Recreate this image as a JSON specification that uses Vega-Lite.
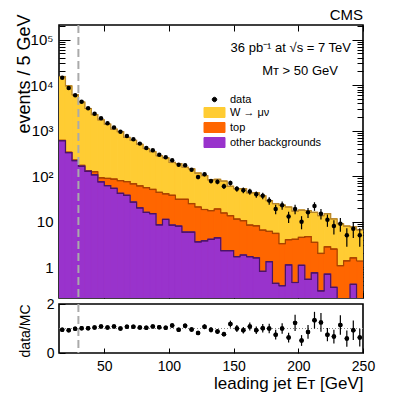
{
  "$schema": "https://vega.github.io/schema/vega-lite/v6.json",
  "padding": {"left": 14, "top": 7, "right": 5, "bottom": 5},
  "bounds": "flush",
  "spacing": 6,
  "config": {
    "view": {"stroke": "black", "strokeWidth": 1.6},
    "font": "Liberation Sans",
    "axis": {"domain": false, "grid": false, "tickColor": "black", "tickWidth": 1, "labelColor": "black", "titleColor": "black", "titleFontWeight": "normal", "labelFont": "Liberation Sans", "titleFont": "Liberation Sans", "labelOverlap": false, "labelBound": false},
    "legend": {"orient": "none", "legendX": 150, "legendY": 69, "title": null, "padding": 0, "labelFont": "Liberation Sans", "labelFontSize": 11, "labelColor": "black", "labelOffset": 10, "rowPadding": 0, "symbolSize": 100}
  },
  "datasets": {
    "h": [
      {"lo": 15, "hi": 20, "c": 17.5, "other": 600, "otop": 610, "mc": 15500, "data": 14500, "dlo": 14380, "dhi": 14620, "r": 0.945, "rlo": 0.935, "rhi": 0.955},
      {"lo": 20, "hi": 25, "c": 22.5, "other": 330, "otop": 335, "mc": 9600, "data": 8700, "dlo": 8607, "dhi": 8793, "r": 0.93, "rlo": 0.92, "rhi": 0.94},
      {"lo": 25, "hi": 30, "c": 27.5, "other": 220, "otop": 225, "mc": 6200, "data": 6000, "dlo": 5923, "dhi": 6077, "r": 0.99, "rlo": 0.977, "rhi": 1.003},
      {"lo": 30, "hi": 35, "c": 32.5, "other": 165, "otop": 172, "mc": 4250, "data": 4300, "dlo": 4234, "dhi": 4366, "r": 1.01, "rlo": 0.994, "rhi": 1.026},
      {"lo": 35, "hi": 40, "c": 37.5, "other": 128, "otop": 132, "mc": 3070, "data": 3100, "dlo": 3044, "dhi": 3156, "r": 1.01, "rlo": 0.992, "rhi": 1.028},
      {"lo": 40, "hi": 45, "c": 42.5, "other": 107, "otop": 125, "mc": 2260, "data": 2350, "dlo": 2302, "dhi": 2398, "r": 1.04, "rlo": 1.019, "rhi": 1.061},
      {"lo": 45, "hi": 50, "c": 47.5, "other": 75, "otop": 92, "mc": 1730, "data": 1870, "dlo": 1827, "dhi": 1913, "r": 1.08, "rlo": 1.055, "rhi": 1.105},
      {"lo": 50, "hi": 55, "c": 52.5, "other": 62, "otop": 89, "mc": 1390, "data": 1450, "dlo": 1412, "dhi": 1488, "r": 1.04, "rlo": 1.013, "rhi": 1.067},
      {"lo": 55, "hi": 60, "c": 57.5, "other": 54, "otop": 86, "mc": 1080, "data": 1170, "dlo": 1136, "dhi": 1204, "r": 1.08, "rlo": 1.048, "rhi": 1.112},
      {"lo": 60, "hi": 65, "c": 62.5, "other": 42, "otop": 80, "mc": 950, "data": 950, "dlo": 919, "dhi": 981, "r": 1.0, "rlo": 0.968, "rhi": 1.032},
      {"lo": 65, "hi": 70, "c": 67.5, "other": 38, "otop": 76, "mc": 710, "data": 760, "dlo": 732, "dhi": 788, "r": 1.07, "rlo": 1.031, "rhi": 1.109},
      {"lo": 70, "hi": 75, "c": 72.5, "other": 27, "otop": 68, "mc": 610, "data": 650, "dlo": 625, "dhi": 675, "r": 1.07, "rlo": 1.028, "rhi": 1.112},
      {"lo": 75, "hi": 80, "c": 77.5, "other": 20, "otop": 61, "mc": 500, "data": 519, "dlo": 496, "dhi": 542, "r": 1.04, "rlo": 0.994, "rhi": 1.086},
      {"lo": 80, "hi": 85, "c": 82.5, "other": 16, "otop": 56, "mc": 405, "data": 417, "dlo": 397, "dhi": 437, "r": 1.03, "rlo": 0.98, "rhi": 1.08},
      {"lo": 85, "hi": 90, "c": 87.5, "other": 15, "otop": 51, "mc": 345, "data": 372, "dlo": 353, "dhi": 391, "r": 1.08, "rlo": 1.024, "rhi": 1.136},
      {"lo": 90, "hi": 95, "c": 92.5, "other": 8.5, "otop": 44, "mc": 281, "data": 295, "dlo": 278, "dhi": 312, "r": 1.05, "rlo": 0.989, "rhi": 1.111},
      {"lo": 95, "hi": 100, "c": 97.5, "other": 11.2, "otop": 41, "mc": 253, "data": 261, "dlo": 245, "dhi": 277, "r": 1.03, "rlo": 0.966, "rhi": 1.094},
      {"lo": 100, "hi": 105, "c": 102.5, "other": 8.4, "otop": 38, "mc": 200, "data": 224, "dlo": 209, "dhi": 239, "r": 1.12, "rlo": 1.045, "rhi": 1.195},
      {"lo": 105, "hi": 110, "c": 107.5, "other": 8, "otop": 31, "mc": 189, "data": 179, "dlo": 166, "dhi": 192, "r": 0.945, "rlo": 0.874, "rhi": 1.016},
      {"lo": 110, "hi": 115, "c": 112.5, "other": 5.9, "otop": 31, "mc": 157, "data": 174, "dlo": 161, "dhi": 187, "r": 1.11, "rlo": 1.026, "rhi": 1.194},
      {"lo": 115, "hi": 120, "c": 117.5, "other": 5.9, "otop": 25, "mc": 145, "data": 139, "dlo": 127, "dhi": 151, "r": 0.96, "rlo": 0.879, "rhi": 1.041},
      {"lo": 120, "hi": 125, "c": 122.5, "other": 3.6, "otop": 21, "mc": 117, "data": 96, "dlo": 86, "dhi": 106, "r": 0.82, "rlo": 0.736, "rhi": 0.904},
      {"lo": 125, "hi": 130, "c": 127.5, "other": 3.8, "otop": 18.5, "mc": 103, "data": 110, "dlo": 99.5, "dhi": 120.5, "r": 1.07, "rlo": 0.97, "rhi": 1.17},
      {"lo": 130, "hi": 135, "c": 132.5, "other": 4.1, "otop": 17.5, "mc": 83, "data": 78, "dlo": 69.2, "dhi": 86.8, "r": 0.945, "rlo": 0.835, "rhi": 1.055},
      {"lo": 135, "hi": 140, "c": 137.5, "other": 4.4, "otop": 19, "mc": 85, "data": 75, "dlo": 66.3, "dhi": 83.7, "r": 0.88, "rlo": 0.78, "rhi": 0.98},
      {"lo": 140, "hi": 145, "c": 142.5, "other": 2.3, "otop": 15.5, "mc": 78, "data": 60, "dlo": 52.3, "dhi": 67.7, "r": 0.77, "rlo": 0.67, "rhi": 0.87},
      {"lo": 145, "hi": 150, "c": 147.5, "other": 2.3, "otop": 13.5, "mc": 60, "data": 71, "dlo": 62.6, "dhi": 79.4, "r": 1.18, "rlo": 1.04, "rhi": 1.32},
      {"lo": 150, "hi": 155, "c": 152.5, "other": 1.7, "otop": 11.4, "mc": 53, "data": 53, "dlo": 45.7, "dhi": 60.3, "r": 1.0, "rlo": 0.86, "rhi": 1.14},
      {"lo": 155, "hi": 160, "c": 157.5, "other": 1.85, "otop": 10.5, "mc": 53, "data": 49, "dlo": 42, "dhi": 56, "r": 0.93, "rlo": 0.8, "rhi": 1.06},
      {"lo": 160, "hi": 165, "c": 162.5, "other": 1.7, "otop": 8.4, "mc": 43, "data": 46, "dlo": 39.2, "dhi": 52.8, "r": 1.08, "rlo": 0.92, "rhi": 1.24},
      {"lo": 165, "hi": 170, "c": 167.5, "other": 1.6, "otop": 8.1, "mc": 43, "data": 40, "dlo": 33.7, "dhi": 46.3, "r": 0.93, "rlo": 0.78, "rhi": 1.08},
      {"lo": 170, "hi": 175, "c": 172.5, "other": 0.81, "otop": 6.5, "mc": 37, "data": 37, "dlo": 30.9, "dhi": 43.1, "r": 1.01, "rlo": 0.84, "rhi": 1.18},
      {"lo": 175, "hi": 180, "c": 177.5, "other": 1.32, "otop": 6.1, "mc": 29, "data": 29, "dlo": 23.6, "dhi": 34.4, "r": 1.0, "rlo": 0.81, "rhi": 1.19},
      {"lo": 180, "hi": 185, "c": 182.5, "other": 0.44, "otop": 5.5, "mc": 25, "data": 19, "dlo": 14.6, "dhi": 23.4, "r": 0.75, "rlo": 0.55, "rhi": 0.95},
      {"lo": 185, "hi": 190, "c": 187.5, "other": 0.39, "otop": 3.3, "mc": 23, "data": 23, "dlo": 18.2, "dhi": 27.8, "r": 1.0, "rlo": 0.79, "rhi": 1.21},
      {"lo": 190, "hi": 195, "c": 192.5, "other": 1.12, "otop": 4.0, "mc": 21, "data": 13, "dlo": 9.4, "dhi": 16.6, "r": 0.63, "rlo": 0.43, "rhi": 0.83},
      {"lo": 195, "hi": 200, "c": 197.5, "other": 0.46, "otop": 4.1, "mc": 17, "data": 19, "dlo": 14.6, "dhi": 23.4, "r": 1.23, "rlo": 0.9, "rhi": 1.56},
      {"lo": 200, "hi": 205, "c": 202.5, "other": 1.1, "otop": 4.5, "mc": 18, "data": 10, "dlo": 6.8, "dhi": 13.2, "r": 0.51, "rlo": 0.29, "rhi": 0.73},
      {"lo": 205, "hi": 210, "c": 207.5, "other": 0.54, "otop": 4.7, "mc": 17.5, "data": 16, "dlo": 12, "dhi": 20, "r": 0.86, "rlo": 0.58, "rhi": 1.14},
      {"lo": 210, "hi": 215, "c": 212.5, "other": 0.75, "otop": 3.5, "mc": 16, "data": 22, "dlo": 17.3, "dhi": 26.7, "r": 1.34, "rlo": 1.0, "rhi": 1.68},
      {"lo": 215, "hi": 220, "c": 217.5, "other": 0.3, "otop": 2.0, "mc": 13.5, "data": 15, "dlo": 11.1, "dhi": 18.9, "r": 1.25, "rlo": 0.87, "rhi": 1.63},
      {"lo": 220, "hi": 225, "c": 222.5, "other": 0.7, "otop": 2.8, "mc": 15, "data": 11, "dlo": 7.7, "dhi": 14.3, "r": 0.75, "rlo": 0.48, "rhi": 1.02},
      {"lo": 225, "hi": 230, "c": 227.5, "other": 0.36, "otop": 2.5, "mc": 11.5, "data": 8, "dlo": 5.2, "dhi": 10.8, "r": 0.67, "rlo": 0.39, "rhi": 0.95},
      {"lo": 230, "hi": 235, "c": 232.5, "other": 0.05, "otop": 1.08, "mc": 9, "data": 9, "dlo": 6, "dhi": 12, "r": 1.14, "rlo": 0.74, "rhi": 1.54},
      {"lo": 235, "hi": 240, "c": 237.5, "other": 0.05, "otop": 1.38, "mc": 8, "data": 5, "dlo": 2.8, "dhi": 7.2, "r": 0.59, "rlo": 0.26, "rhi": 0.92},
      {"lo": 240, "hi": 245, "c": 242.5, "other": 0.42, "otop": 1.6, "mc": 7.7, "data": 7, "dlo": 4.4, "dhi": 9.6, "r": 0.93, "rlo": 0.53, "rhi": 1.33},
      {"lo": 245, "hi": 250, "c": 247.5, "other": 0.05, "otop": 1.36, "mc": 6.5, "data": 5, "dlo": 2.8, "dhi": 7.2, "r": 0.63, "rlo": 0.27, "rhi": 0.99}
    ]
  },
  "vconcat": [
    {
      "width": 304,
      "height": 273,
      "title": {"text": "CMS", "anchor": "end", "frame": "group", "fontSize": 15, "font": "Liberation Sans", "fontWeight": "normal", "offset": -9, "color": "black"},
      "data": {"name": "h"},
      "resolve": {"axis": {"x": "independent", "y": "independent"}},
      "layer": [
        {
          "mark": {"type": "bar", "clip": true, "strokeWidth": 1},
          "encoding": {
            "x": {"field": "lo", "type": "quantitative", "scale": {"domain": [15, 250], "nice": false, "zero": false},
                  "axis": {"orient": "bottom", "values": [50, 100, 150, 200, 250], "labels": false, "tickSize": -6, "title": null}},
            "x2": {"field": "hi"},
            "y": {"field": "mc", "type": "quantitative", "scale": {"type": "log", "domain": [0.21, 210000], "nice": false},
                  "axis": {"orient": "left", "title": "events / 5 GeV", "titleFontSize": 18, "titleAnchor": "end", "titleAlign": "right", "titleAngle": -90, "titleBaseline": "alphabetic", "titleX": -30, "titleY": -11,
                           "values": [0.3,0.4,0.5,0.6,0.7,0.8,0.9,1,2,3,4,5,6,7,8,9,10,20,30,40,50,60,70,80,90,100,200,300,400,500,600,700,800,900,1000,2000,3000,4000,5000,6000,7000,8000,9000,10000,20000,30000,40000,50000,60000,70000,80000,90000,100000,200000],
                           "labelExpr": "datum.value == 1 ? '1' : datum.value == 10 ? '10' : datum.value == 100 ? '10²' : datum.value == 1000 ? '10³' : datum.value == 10000 ? '10⁴' : datum.value == 100000 ? '10⁵' : ''",
                           "labelFontSize": 15, "labelPadding": 17,
                           "tickSize": {"condition": {"test": "indexof([1,10,100,1000,10000,100000], datum.value) >= 0", "value": -11}, "value": -6}}},
            "y2": {"datum": 0.05},
            "color": {"datum": "W → μν", "type": "nominal",
                      "scale": {"domain": ["data", "W → μν", "top", "other backgrounds"], "range": ["black", "#ffcc33", "#ff6600", "#9933cc"]},
                      "legend": {"symbolType": {"expr": "datum.value === 'data' ? 'M0.45,0A0.45,0.45,0,1,1,-0.45,0A0.45,0.45,0,1,1,0.45,0Z' : 'M-2.1,-1H2.1V1H-2.1Z'"},
                                 "symbolStrokeColor": {"expr": "datum.value === 'data' ? 'black' : datum.value === 'top' ? '#cc5200' : datum.value === 'other backgrounds' ? '#7a2aa8' : '#c9a26b'"},
                                 "symbolStrokeWidth": 1, "symbolOpacity": 1}},
            "stroke": {"datum": "W → μν", "type": "nominal", "scale": {"domain": ["data", "W → μν", "top", "other backgrounds"], "range": ["black", "#ffcc33", "#ff6600", "#9933cc"]}, "legend": null}
          }
        },
        {
          "mark": {"type": "line", "interpolate": "step-after", "clip": true, "color": "#b8862b", "strokeWidth": 1.2},
          "encoding": {
            "x": {"field": "lo", "type": "quantitative", "axis": null},
            "y": {"field": "mc", "type": "quantitative", "axis": null}
          }
        },
        {
          "mark": {"type": "rule", "clip": true, "color": "#b8862b", "strokeWidth": 1.2},
          "encoding": {
            "x": {"field": "lo", "type": "quantitative", "axis": {"orient": "top", "values": [50, 100, 150, 200, 250], "labels": false, "tickSize": -6, "title": null}},
            "x2": {"field": "hi"},
            "y": {"field": "mc", "type": "quantitative", "axis": null}
          }
        },
        {
          "mark": {"type": "bar", "clip": true, "strokeWidth": 1},
          "encoding": {
            "x": {"field": "lo", "type": "quantitative", "axis": null},
            "x2": {"field": "hi"},
            "y": {"field": "otop", "type": "quantitative",
                  "axis": {"orient": "right", "labels": false, "title": null,
                           "values": [0.3,0.4,0.5,0.6,0.7,0.8,0.9,1,2,3,4,5,6,7,8,9,10,20,30,40,50,60,70,80,90,100,200,300,400,500,600,700,800,900,1000,2000,3000,4000,5000,6000,7000,8000,9000,10000,20000,30000,40000,50000,60000,70000,80000,90000,100000,200000],
                           "tickSize": {"condition": {"test": "indexof([1,10,100,1000,10000,100000], datum.value) >= 0", "value": -11}, "value": -6}}},
            "y2": {"datum": 0.05},
            "color": {"datum": "top", "type": "nominal", "scale": {"domain": ["data", "W → μν", "top", "other backgrounds"], "range": ["black", "#ffcc33", "#ff6600", "#9933cc"]},
                      "legend": {"symbolType": {"expr": "datum.value === 'data' ? 'M0.45,0A0.45,0.45,0,1,1,-0.45,0A0.45,0.45,0,1,1,0.45,0Z' : 'M-2.1,-1H2.1V1H-2.1Z'"},
                                 "symbolStrokeColor": {"expr": "datum.value === 'data' ? 'black' : datum.value === 'top' ? '#cc5200' : datum.value === 'other backgrounds' ? '#7a2aa8' : '#c9a26b'"},
                                 "symbolStrokeWidth": 1, "symbolOpacity": 1}},
            "stroke": {"datum": "top", "type": "nominal", "scale": {"domain": ["data", "W → μν", "top", "other backgrounds"], "range": ["black", "#ffcc33", "#ff6600", "#9933cc"]}, "legend": null}
          }
        },
        {
          "mark": {"type": "line", "interpolate": "step-after", "clip": true, "color": "#a84300", "strokeWidth": 1.2},
          "encoding": {
            "x": {"field": "lo", "type": "quantitative", "axis": null},
            "y": {"field": "otop", "type": "quantitative", "axis": null}
          }
        },
        {
          "mark": {"type": "rule", "clip": true, "color": "#a84300", "strokeWidth": 1.2},
          "encoding": {
            "x": {"field": "lo", "type": "quantitative", "axis": null},
            "x2": {"field": "hi"},
            "y": {"field": "otop", "type": "quantitative", "axis": null}
          }
        },
        {
          "mark": {"type": "bar", "clip": true, "strokeWidth": 1},
          "encoding": {
            "x": {"field": "lo", "type": "quantitative", "axis": null},
            "x2": {"field": "hi"},
            "y": {"field": "other", "type": "quantitative", "axis": null},
            "y2": {"datum": 0.05},
            "color": {"datum": "other backgrounds", "type": "nominal", "scale": {"domain": ["data", "W → μν", "top", "other backgrounds"], "range": ["black", "#ffcc33", "#ff6600", "#9933cc"]},
                      "legend": {"symbolType": {"expr": "datum.value === 'data' ? 'M0.45,0A0.45,0.45,0,1,1,-0.45,0A0.45,0.45,0,1,1,0.45,0Z' : 'M-2.1,-1H2.1V1H-2.1Z'"},
                                 "symbolStrokeColor": {"expr": "datum.value === 'data' ? 'black' : datum.value === 'top' ? '#cc5200' : datum.value === 'other backgrounds' ? '#7a2aa8' : '#c9a26b'"},
                                 "symbolStrokeWidth": 1, "symbolOpacity": 1}},
            "stroke": {"datum": "other backgrounds", "type": "nominal", "scale": {"domain": ["data", "W → μν", "top", "other backgrounds"], "range": ["black", "#ffcc33", "#ff6600", "#9933cc"]}, "legend": null}
          }
        },
        {
          "mark": {"type": "line", "interpolate": "step-after", "clip": true, "color": "#4b1466", "strokeWidth": 1.2},
          "encoding": {
            "x": {"field": "lo", "type": "quantitative", "axis": null},
            "y": {"field": "other", "type": "quantitative", "axis": null}
          }
        },
        {
          "mark": {"type": "rule", "clip": true, "color": "#4b1466", "strokeWidth": 1.2},
          "encoding": {
            "x": {"field": "lo", "type": "quantitative", "axis": null},
            "x2": {"field": "hi"},
            "y": {"field": "other", "type": "quantitative", "axis": null}
          }
        },
        {
          "data": {"values": [{}]},
          "mark": {"type": "rule", "color": "#aaaaaa", "strokeWidth": 2, "strokeDash": [8, 4]},
          "encoding": {"x": {"datum": 30, "type": "quantitative", "axis": null}}
        },
        {
          "mark": {"type": "rule", "clip": true, "color": "black", "strokeWidth": 1.2},
          "encoding": {
            "x": {"field": "c", "type": "quantitative", "axis": null},
            "y": {"field": "dlo", "type": "quantitative", "axis": null},
            "y2": {"field": "dhi"}
          }
        },
        {
          "mark": {"type": "circle", "size": 20, "opacity": 1, "clip": true},
          "encoding": {
            "x": {"field": "c", "type": "quantitative", "axis": null},
            "y": {"field": "data", "type": "quantitative", "axis": null},
            "color": {"datum": "data", "type": "nominal", "scale": {"domain": ["data", "W → μν", "top", "other backgrounds"], "range": ["black", "#ffcc33", "#ff6600", "#9933cc"]},
                      "legend": {"symbolType": {"expr": "datum.value === 'data' ? 'M0.45,0A0.45,0.45,0,1,1,-0.45,0A0.45,0.45,0,1,1,0.45,0Z' : 'M-2.1,-1H2.1V1H-2.1Z'"},
                                 "symbolStrokeColor": {"expr": "datum.value === 'data' ? 'black' : datum.value === 'top' ? '#cc5200' : datum.value === 'other backgrounds' ? '#7a2aa8' : '#c9a26b'"},
                                 "symbolStrokeWidth": 1, "symbolOpacity": 1}}
          }
        },
        {
          "data": {"values": [{}]},
          "mark": {"type": "text", "align": "right", "baseline": "alphabetic", "font": "Liberation Sans", "fontSize": 13, "color": "black"},
          "encoding": {
            "x": {"datum": 240.7, "type": "quantitative", "axis": null},
            "y": {"datum": 53000, "type": "quantitative", "axis": null},
            "text": {"value": "36 pb⁻¹ at √s = 7 TeV"}
          }
        },
        {
          "data": {"values": [{}]},
          "mark": {"type": "text", "align": "right", "baseline": "alphabetic", "font": "Liberation Sans", "fontSize": 13, "color": "black"},
          "encoding": {
            "x": {"datum": 230.6, "type": "quantitative", "axis": null},
            "y": {"datum": 16600, "type": "quantitative", "axis": null},
            "text": {"value": "Mᴛ > 50 GeV"}
          }
        }
      ]
    },
    {
      "width": 304,
      "height": 49,
      "data": {"name": "h"},
      "resolve": {"axis": {"x": "independent", "y": "independent"}},
      "layer": [
        {
          "mark": {"type": "circle", "size": 20, "opacity": 1, "color": "black", "clip": true},
          "encoding": {
            "x": {"field": "c", "type": "quantitative", "scale": {"domain": [15, 250], "nice": false, "zero": false},
                  "axis": {"orient": "bottom", "values": [50, 100, 150, 200, 250], "labelFontSize": 14, "labelPadding": 11, "labelFlush": false, "tickSize": -5,
                           "title": "leading jet Eᴛ  [GeV]", "titleFontSize": 17, "titleAnchor": "end", "titleAlign": "right", "titleBaseline": "alphabetic", "titleX": 304, "titleY": 35}},
            "y": {"field": "r", "type": "quantitative", "scale": {"domain": [0, 2], "nice": false, "zero": false},
                  "axis": {"orient": "left", "values": [0, 1, 2], "format": "d", "labelFontSize": 14, "labelPadding": 11, "tickSize": -6,
                           "title": "data/MC", "titleFontSize": 14, "titleAnchor": "end", "titleAlign": "right", "titleAngle": -90, "titleBaseline": "alphabetic", "titleX": -30, "titleY": 0}}
          }
        },
        {
          "data": {"values": [{}]},
          "mark": {"type": "rule", "color": "#888888", "strokeWidth": 1, "strokeDash": [1, 2]},
          "encoding": {
            "y": {"datum": 1, "type": "quantitative", "axis": null}
          }
        },
        {
          "data": {"values": [{}]},
          "mark": {"type": "rule", "color": "#aaaaaa", "strokeWidth": 2, "strokeDash": [8, 4]},
          "encoding": {"x": {"datum": 30, "type": "quantitative", "axis": null}}
        },
        {
          "mark": {"type": "rule", "clip": true, "color": "black", "strokeWidth": 1.2},
          "encoding": {
            "x": {"field": "c", "type": "quantitative", "axis": null},
            "y": {"field": "rlo", "type": "quantitative", "axis": null},
            "y2": {"field": "rhi"}
          }
        },
        {
          "mark": {"type": "circle", "size": 20, "opacity": 1, "color": "black", "clip": true},
          "encoding": {
            "x": {"field": "c", "type": "quantitative", "axis": null},
            "y": {"field": "r", "type": "quantitative", "axis": null}
          }
        }
      ]
    }
  ]
}
